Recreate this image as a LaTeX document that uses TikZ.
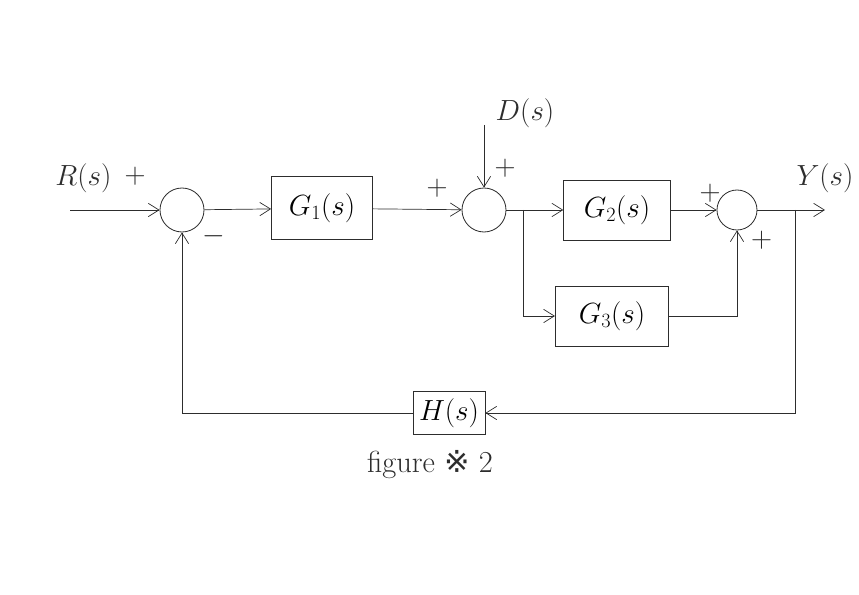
\documentclass[tikz,border=0pt]{standalone}
\usepackage{amsmath,amssymb}
\usepackage{fontspec}
\usetikzlibrary{
	positioning,
	calc,
	arrows.meta
}
\newfontfamily\marksymfont{DejaVu Sans}
\newcommand{\handsize}{\fontsize{26}{30}\selectfont}
\definecolor{PencilGray}{RGB}{45,45,45}

\begin{document}
\begin{tikzpicture}[
	blockbox/.style={draw=PencilGray, line width=0.7pt, inner sep=0pt, font=\handsize},
	sumnode/.style={draw=PencilGray, circle, line width=0.7pt, minimum size=1.32cm, inner sep=0pt},
	sigline/.style={draw=PencilGray, line width=0.6pt},
	sigarrow/.style={sigline, -{Straight Barb[length=3.2mm, width=4mm]}},
	signlabel/.style={font=\handsize, text=PencilGray},
	sigtext/.style={font=\handsize, text=PencilGray}
	]
	\useasboundingbox (0,0) rectangle (25.77,17.85);
	
	% blocks and summing points
	\node[sumnode] (S1) at (5.46,11.55) {};
	\node[blockbox, minimum width=3.03cm, minimum height=1.89cm] (G1) at (9.66,11.6) {$G_1(s)$};
	\node[sumnode] (S2) at (14.52,11.55) {};
	\node[blockbox, minimum width=3.2cm, minimum height=1.8cm] (G2) at (18.51,11.55) {$G_2(s)$};
	\node[blockbox, minimum width=3.4cm, minimum height=1.8cm] (G3) at (18.36,8.37) {$G_3(s)$};
	\node[sumnode, minimum size=1.2cm] (S3) at (22.11,11.55) {};
	\node[blockbox, minimum width=2.16cm, minimum height=1.3cm] (H) at (13.47,5.46) {$H(s)$};
	
	% free ends and corners
	\coordinate (Rin) at (2.1,11.55);
	\coordinate (Din) at (14.52,14.1);
	\coordinate (Yout) at (24.75,11.55);
	\coordinate (B1) at (15.69,11.55);
	\coordinate (B2) at (23.85,11.55);
	
	% forward path
	\draw[sigarrow] (Rin) -- (S1);
	\draw[sigarrow] (S1) -- (G1);
	\draw[sigarrow] (G1) -- (S2);
	\draw[sigarrow] (Din) -- (S2);
	\draw[sigarrow] (S2) -- (G2);
	\draw[sigarrow] (B1) |- (G3);
	\draw[sigarrow] (G2) -- (S3);
	\draw[sigarrow] (G3) -| (S3);
	\draw[sigarrow] (S3) -- (Yout);
	
	% feedback path
	\draw[sigarrow] (B2) |- (H);
	\draw[sigarrow] (H) -| (S1);
	
	% labels
	\node[sigtext] (Rlab) at (2.5,12.5) {$R(s)$};
	\node[signlabel] (p1) at (4.05,12.55) {$+$};
	\node[signlabel] (m1) at (6.4,10.75) {$-$};
	\node[signlabel] (p2) at (13.11,12.2) {$+$};
	\node[sigtext] (Dlab) at (15.75,14.45) {$D(s)$};
	\node[signlabel] (p3) at (15.15,12.8) {$+$};
	\node[signlabel] (p4) at (21.3,12.05) {$+$};
	\node[signlabel] (p5) at (22.85,10.65) {$+$};
	\node[sigtext] (Ylab) at (24.75,12.5) {$Y(s)$};
	\node[sigtext] (cap) at (12.9,3.9) {figure {\marksymfont ※} 2};
	
\end{tikzpicture}
\end{document}
